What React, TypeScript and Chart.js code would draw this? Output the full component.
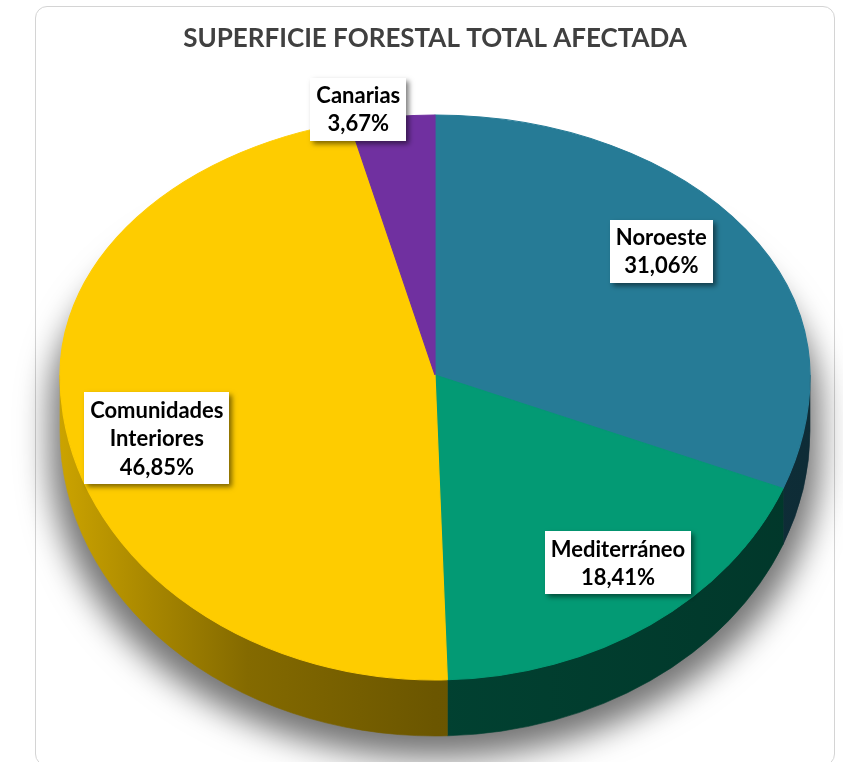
import { useEffect, useRef } from 'react';
import { Chart, registerables } from 'chart.js';

Chart.register(...registerables);

// ---- data ----
const categories = ['Noroeste', 'Mediterráneo', 'Comunidades Interiores', 'Canarias'];
const labelLines = [['Noroeste'], ['Mediterráneo'], ['Comunidades', 'Interiores'], ['Canarias']];
const values = [31.06, 18.41, 46.85, 3.67];
const colors = ['#267b96', '#039a74', '#fecc00', '#7030a0'];
const titleText = 'SUPERFICIE FORESTAL TOTAL AFECTADA';

// ---- layout / style ----
const W = 843;
const H = 762;
const CX = 435;
const CY = 375;
const RX = 375;
const RYT = 260;
const RYB = 305;
const DEPTH = 56;
const labelPlacement = [
  { r: 0.769, shift: -4.2 },
  { r: 0.786, shift: -3.35 },
  { r: 0.77, shift: -8 },
  { r: 1.043, shift: -4.7 },
];
const sideStops: [number, number][] = [
  [0, 0.8],
  [0.12, 0.66],
  [0.25, 0.52],
  [0.5, 0.42],
  [1, 0.36],
];
const FONT = 'Lato';

function shade(hex: string, f: number) {
  const n = parseInt(hex.slice(1), 16);
  const r = Math.round(((n >> 16) & 255) * f);
  const g = Math.round(((n >> 8) & 255) * f);
  const b = Math.round((n & 255) * f);
  return `rgb(${r},${g},${b})`;
}

function fmt(v: number) {
  return v.toFixed(2).replace('.', ',') + '%';
}

const pie3d = {
  id: 'pie3d',
  beforeDatasetsDraw(chart: any) {
    const ctx: CanvasRenderingContext2D = chart.ctx;
    const els = chart.getDatasetMeta(0).data as any[];
    if (!els.length) return;
    const R = els[0].outerRadius;
    const ox = els[0].x;
    const oy = els[0].y;

    // soft shadow
    ctx.save();
    const off = 3000;
    const sx = CX - off;
    ctx.beginPath();
    ctx.ellipse(sx, CY + 30, RX + 10, RYT - 20, 0, Math.PI, 2 * Math.PI);
    ctx.lineTo(sx + RX + 10, CY + 30 + DEPTH - 12);
    ctx.ellipse(sx, CY + 30 + DEPTH - 12, RX + 10, RYB, 0, 0, Math.PI);
    ctx.closePath();
    ctx.shadowColor = 'rgba(0,0,0,0.55)';
    ctx.shadowBlur = 32;
    ctx.shadowOffsetX = off;
    ctx.shadowOffsetY = 4;
    ctx.fillStyle = '#000';
    ctx.fill();
    ctx.restore();

    // sides
    els.forEach((el: any, i: number) => {
      const b1 = Math.max(el.startAngle, 0);
      const b2 = Math.min(el.endAngle, Math.PI);
      if (b2 <= b1) return;
      const g = ctx.createLinearGradient(CX - RX, 0, CX + RX, 0);
      sideStops.forEach(([p, f]) => g.addColorStop(p, shade(colors[i], f)));
      ctx.beginPath();
      ctx.ellipse(CX, CY, RX, RYB, 0, b1, b2);
      ctx.lineTo(CX + RX * Math.cos(b2), CY + RYB * Math.sin(b2) + DEPTH);
      ctx.ellipse(CX, CY + DEPTH, RX, RYB, 0, b2, b1, true);
      ctx.closePath();
      ctx.fillStyle = g;
      ctx.fill();
      ctx.strokeStyle = g;
      ctx.lineWidth = 0.6;
      ctx.stroke();
    });

    // top half of the face (library arcs, projected)
    ctx.save();
    ctx.beginPath();
    ctx.rect(0, 0, W, CY);
    ctx.clip();
    ctx.translate(CX, CY);
    ctx.scale(RX / R, RYT / R);
    ctx.translate(-ox, -oy);
    els.forEach((el: any) => el.draw(ctx));
    ctx.restore();

    // bottom half: library draws into this projection
    ctx.save();
    ctx.beginPath();
    ctx.rect(0, CY, W, H - CY);
    ctx.clip();
    ctx.translate(CX, CY);
    ctx.scale(RX / R, RYB / R);
    ctx.translate(-ox, -oy);
  },
  afterDatasetsDraw(chart: any) {
    chart.ctx.restore();
  },
  afterDraw(chart: any) {
    const ctx: CanvasRenderingContext2D = chart.ctx;
    const els = chart.getDatasetMeta(0).data as any[];
    const lh = 28.5;
    ctx.save();
    ctx.font = `bold 22px ${FONT}`;
    els.forEach((el: any, i: number) => {
      const mid = (el.startAngle + el.endAngle) / 2 + (labelPlacement[i].shift * Math.PI) / 180;
      const r = labelPlacement[i].r;
      const u = r * Math.cos(mid);
      const v = r * Math.sin(mid);
      const x = CX + RX * u;
      const y = CY + (v < 0 ? RYT : RYB) * v;
      const lines = [...labelLines[i], fmt(values[i])];
      const tw = Math.max(...lines.map((s) => ctx.measureText(s).width));
      const bw = tw + 12;
      const bh = lines.length * lh + 6;
      ctx.save();
      ctx.shadowColor = 'rgba(0,0,0,0.5)';
      ctx.shadowBlur = 5;
      ctx.shadowOffsetX = 3;
      ctx.shadowOffsetY = 3;
      ctx.fillStyle = '#ffffff';
      ctx.fillRect(Math.round(x - bw / 2), Math.round(y - bh / 2), Math.round(bw), Math.round(bh));
      ctx.restore();
      ctx.fillStyle = '#000000';
      ctx.textAlign = 'center';
      ctx.textBaseline = 'middle';
      lines.forEach((s, k) => {
        ctx.fillText(s, x, y - bh / 2 + 3 + lh * (k + 0.5) + 1);
      });
    });
    ctx.restore();
  },
};

export default function App() {
  const ref = useRef<HTMLCanvasElement>(null);
  useEffect(() => {
    if (!ref.current) return;
    const chart = new Chart(ref.current, {
      type: 'pie',
      data: {
        labels: categories,
        datasets: [
          {
            data: values,
            backgroundColor: colors,
            borderColor: colors,
            borderWidth: 1,
          },
        ],
      },
      options: {
        animation: false,
        responsive: false,
        devicePixelRatio: 1,
        layout: { padding: { left: 35, right: 8, top: 0, bottom: 60 } },
        plugins: {
          legend: { display: false },
          tooltip: { enabled: false },
          title: {
            display: true,
            text: titleText,
            color: '#404040',
            font: { family: FONT, size: 26, weight: 'bold' },
            padding: { top: 23, bottom: 10 },
          },
        },
      },
      plugins: [pie3d],
    });
    return () => chart.destroy();
  }, []);

  return (
    <div style={{ position: 'absolute', left: 0, top: 0, width: W, height: H, overflow: 'hidden', background: '#fff' }}>
      <div
        style={{
          position: 'absolute',
          left: 35,
          top: 6,
          width: 800,
          height: 760,
          border: '1px solid #d4d4d4',
          borderRadius: 12,
          boxSizing: 'border-box',
          background: '#fff',
        }}
      />
      <canvas ref={ref} width={W} height={H} style={{ position: 'absolute', left: 0, top: 0, width: W, height: H }} />
    </div>
  );
}
